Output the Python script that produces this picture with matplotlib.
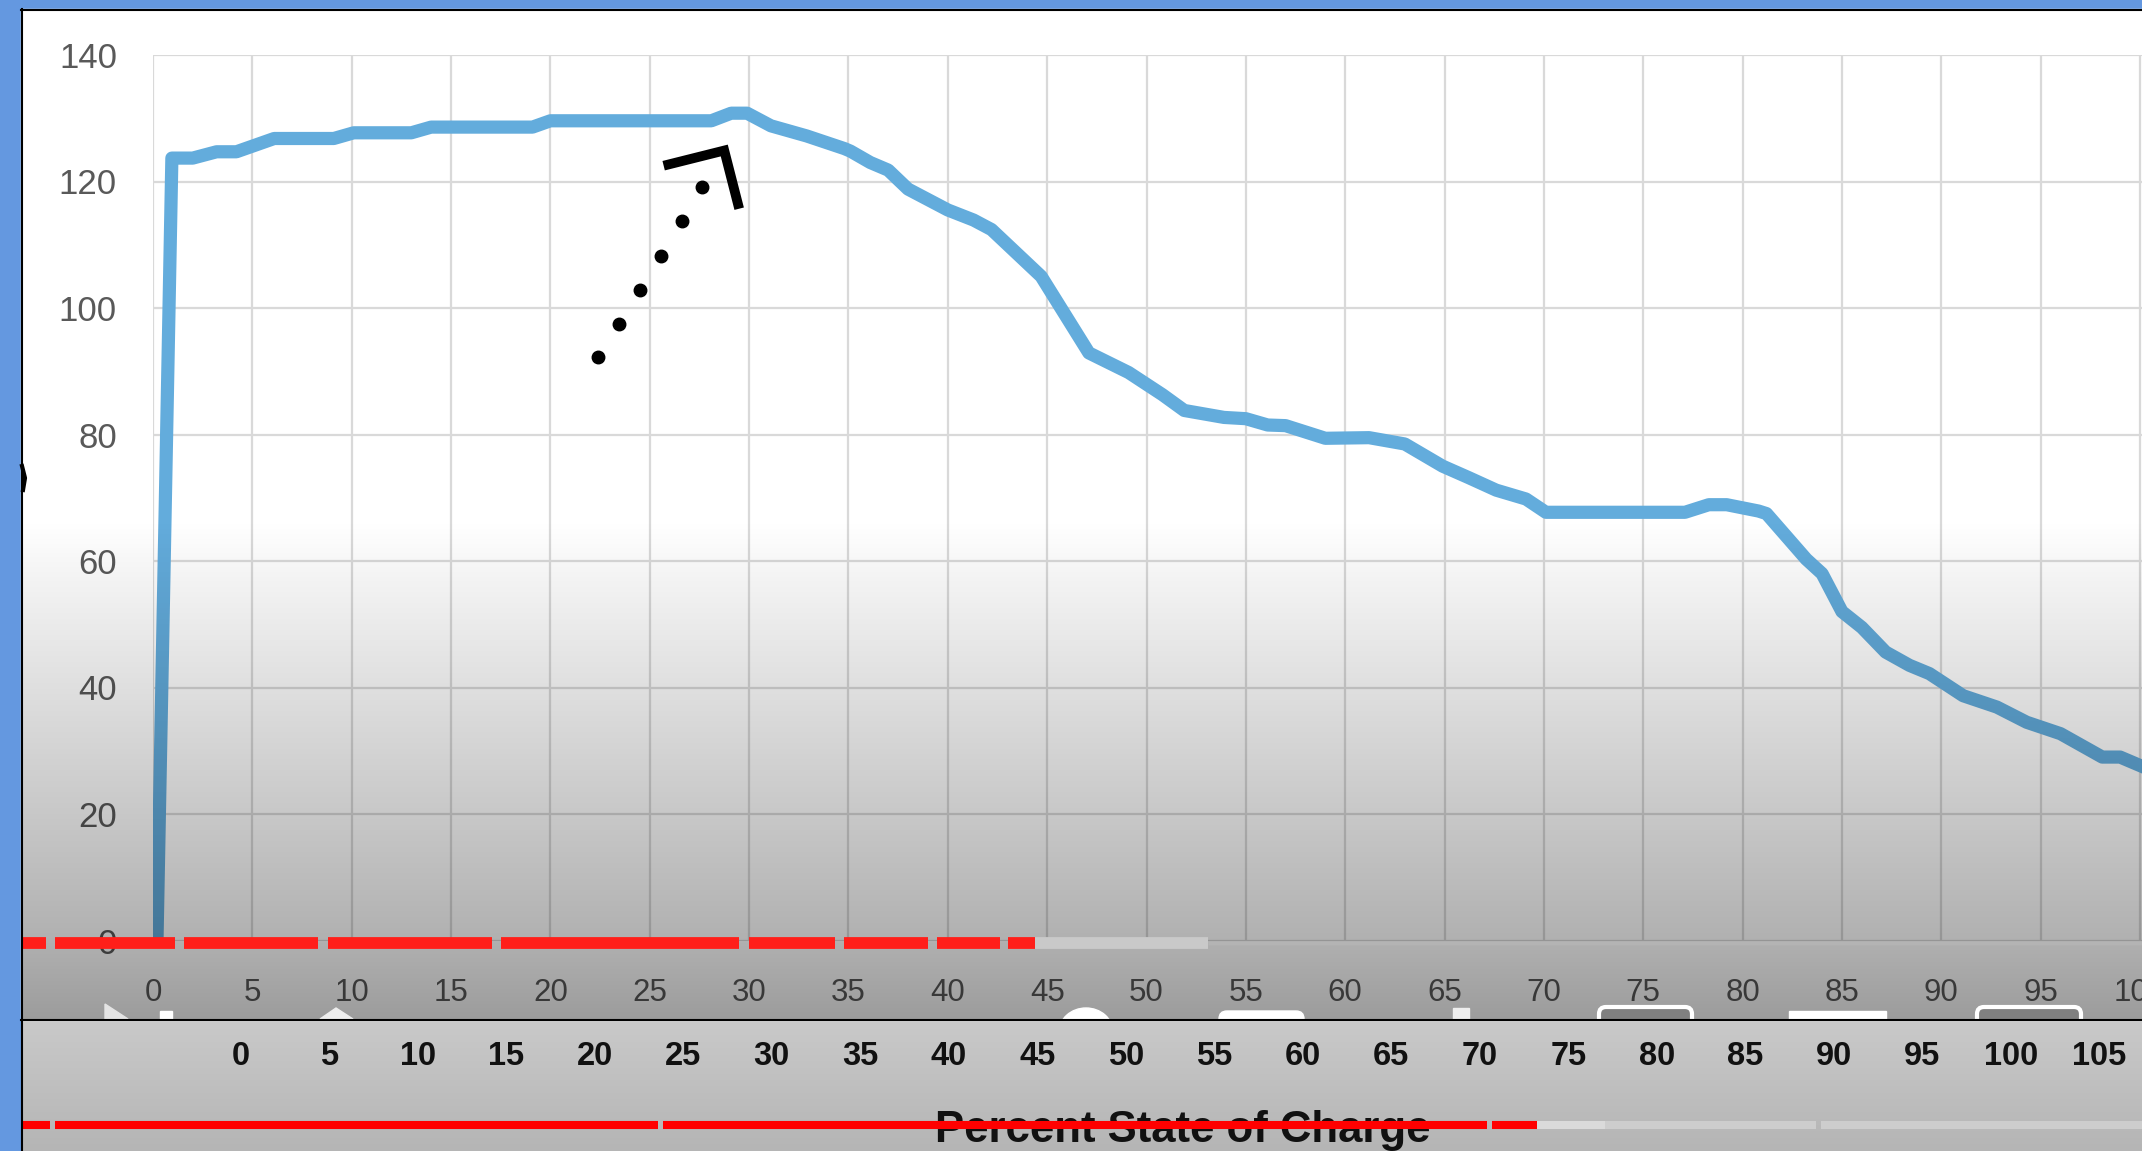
import numpy as np
import matplotlib
matplotlib.use("Agg")
import matplotlib.pyplot as plt
from matplotlib.patches import Rectangle, FancyBboxPatch, Ellipse, Polygon

W, H = 2142, 1151

# curve (percent state of charge -> value)
soc = [0.2, 0.95, 2.0, 3.2, 4.2, 6.1, 9.1, 10.1, 13.0, 14.0, 19.1, 20.0, 28.1,
       29.1, 29.9, 31.1, 32.9, 34.8, 35.1, 36.1, 37.0, 38.0, 40.0, 41.3, 42.2,
       44.7, 47.1, 49.1, 50.8, 51.9, 53.9, 55.0, 56.1, 57.0, 59.0, 61.2, 63.0,
       64.9, 66.2, 67.6, 69.1, 70.1, 77.1, 78.3, 79.2, 80.8, 81.2, 83.2, 84.0,
       85.0, 86.0, 87.2, 88.4, 89.4, 91.1, 92.8, 94.3, 96.0, 98.1, 99.0, 100.2,
       101.5]
value = [0, 123.7, 123.7, 124.7, 124.7, 126.8, 126.8, 127.7, 127.7, 128.6,
         128.6, 129.6, 129.6, 130.8, 130.8, 128.8, 127.2, 125.2, 124.8, 123.0,
         121.8, 118.8, 115.5, 113.9, 112.4, 105.0, 92.9, 89.8, 86.3, 83.8, 82.7,
         82.5, 81.5, 81.4, 79.4, 79.5, 78.5, 75.0, 73.2, 71.2, 69.8, 67.7, 67.7,
         68.9, 68.9, 67.9, 67.5, 60.3, 58.0, 52.0, 49.5, 45.6, 43.5, 42.2, 38.7,
         36.9, 34.5, 32.7, 29.0, 29.0, 27.4, 25.2]

x_ticks = list(range(0, 101, 5))
y_ticks = list(range(0, 141, 20))
lower_ticks = list(range(0, 106, 5))

# hand-drawn pointer (dots + hook), in data units
dot_x = [22.4, 23.45, 24.5, 25.55, 26.6, 27.65]
dot_y = [92.2, 97.5, 102.9, 108.3, 113.8, 119.2]
hook_x = [25.7, 28.75, 29.5]
hook_y = [122.5, 124.9, 115.7]

# video player progress bars (pixel coords)
red_top = [(23, 46), (55, 175), (184, 318), (328, 492), (501, 739),
           (749, 835), (844, 928), (937, 1000), (1008, 1035)]
red_bottom = [(23, 50), (55, 658), (663, 1487), (1492, 1537)]

fig = plt.figure(figsize=(W / 100, H / 100), dpi=100, facecolor="#6498e0")


def pixel_axes(z):
    a = fig.add_axes([0, 0, 1, 1], zorder=z)
    a.set_xlim(0, W)
    a.set_ylim(H, 0)
    a.axis("off")
    a.patch.set_alpha(0)
    return a


# background: white video frame, grey lower strip
bg = pixel_axes(0)
bg.add_patch(Rectangle((21, 9), W - 21, 1011, color="white"))
low = np.linspace(0, 1, 100)[:, None]
strip = np.dstack([0.79 - 0.08 * low] * 3)
bg.imshow(strip, extent=[21, W, H, 1019.5], aspect="auto")

# chart
ax = fig.add_axes([153 / W, 1 - 940.5 / H, (W - 153) / W, 885.5 / H], zorder=1)
ax.patch.set_alpha(0)
ax.plot(soc, value, color="#63acdc", lw=9.5, solid_joinstyle="round")
ax.plot(dot_x, dot_y, "o", color="black", ms=9)
ax.plot(hook_x, hook_y, color="black", lw=7, solid_joinstyle="miter",
        solid_capstyle="butt")
ax.set_xlim(0, (W - 153) / 19.87)
ax.set_ylim(0, 140)
ax.set_xticks(x_ticks)
ax.set_yticks(y_ticks)
ax.grid(color="#d9d9d9", lw=1.6)
ax.set_axisbelow(True)
for s in ax.spines.values():
    s.set_visible(False)
ax.tick_params(length=0, colors="#595959")
ax.tick_params(axis="y", pad=26)
ax.tick_params(axis="x", pad=27)
for t in ax.get_yticklabels():
    t.set_fontfamily(["Liberation Sans Narrow", "Liberation Sans"])
    t.set_fontsize(25)
for t in ax.get_xticklabels():
    t.set_fontfamily("Liberation Sans")
    t.set_fontsize(22.5)

# overlay: darkening gradient, player controls, progress bars
ov = pixel_axes(2)
ys = np.linspace(9, 1019, 400)
alpha = np.interp(ys, [9, 520, 580, 690, 815, 940, 1019],
                  [0, 0, 0.05, 0.13, 0.22, 0.31, 0.39])
shade = np.zeros((len(ys), 1, 4))
shade[:, 0, 3] = alpha
ov.imshow(shade, extent=[21, W, 1019, 9], aspect="auto", zorder=1)

clip = Rectangle((21, 9), W - 21, 1010, transform=ov.transData)
icons = [
    Polygon([(105, 1019), (105, 1004), (128, 1019)], color="#e4e4e4"),
    Rectangle((160, 1011), 12, 10, color="white"),
    Polygon([(320, 1019), (336, 1008), (353, 1019)], color="#eeeeee"),
    Ellipse((1086, 1032), 54, 48, color="white"),
    FancyBboxPatch((1219, 1011), 85, 20, boxstyle="round,pad=0,rounding_size=8",
                   color="white"),
    Rectangle((1453, 1008), 16, 14, color="#eeeeee"),
    FancyBboxPatch((1599, 1007), 93, 24, boxstyle="round,pad=0,rounding_size=7",
                   fc="#808080", ec="white", lw=3),
    Rectangle((1789, 1011), 97, 20, color="white"),
    FancyBboxPatch((1977, 1007), 104, 24, boxstyle="round,pad=0,rounding_size=7",
                   fc="#808080", ec="white", lw=3),
]
for p in icons:
    p.set_zorder(2)
    ov.add_patch(p)
    p.set_clip_path(clip)

ov.plot([1035, 1208], [943, 943], color="#c9c9c9", lw=8.5, solid_capstyle="butt", zorder=3)
ov.plot([1208, W], [943, 943], color="#b4b4b4", lw=2.5, solid_capstyle="butt", zorder=3)
for a, b in red_top:
    ov.plot([a, b], [943, 943], color="#ff1f1a", lw=8.5, solid_capstyle="butt", zorder=4)

ov.text(1183, 1142, "Percent State of Charge", ha="center", va="baseline",
        fontsize=31.5, fontweight="bold", family="Liberation Sans", color="#111111",
        zorder=3)
ov.plot([1537, 1605], [1125, 1125], color="#dadada", lw=5.8, solid_capstyle="butt", zorder=4)
ov.plot([1605, 1816], [1125, 1125], color="#cdcdcd", lw=5.8, solid_capstyle="butt", zorder=4)
ov.plot([1821, W], [1125, 1125], color="#cdcdcd", lw=5.8, solid_capstyle="butt", zorder=4)
for a, b in red_bottom:
    ov.plot([a, b], [1125, 1125], color="#ff0000", lw=5.8, solid_capstyle="butt", zorder=5)

# frame edges
ov.plot([21.5, 21.5], [9, H], color="black", lw=1.5, zorder=6)
ov.plot([21, W], [9.5, 9.5], color="black", lw=1.5, zorder=6)
ov.plot([21, W], [1019.5, 1019.5], color="black", lw=1.5, zorder=6)
ov.plot([22, 25, 23], [466, 478, 490], color="black", lw=3, zorder=6)

# lower strip axis labels
axl = fig.add_axes([0, 1 - 1040 / H, 1, 0.001], zorder=3)
axl.patch.set_alpha(0)
axl.set_xlim(-240.7 / 17.7, (W - 240.7) / 17.7)
axl.set_xticks(lower_ticks)
axl.set_yticks([])
for s in axl.spines.values():
    s.set_visible(False)
axl.tick_params(length=0, pad=1, colors="#111111")
for t in axl.get_xticklabels():
    t.set_fontfamily("Liberation Sans")
    t.set_fontweight("bold")
    t.set_fontsize(23.5)

fig.savefig("out.png", dpi=100, facecolor=fig.get_facecolor())
